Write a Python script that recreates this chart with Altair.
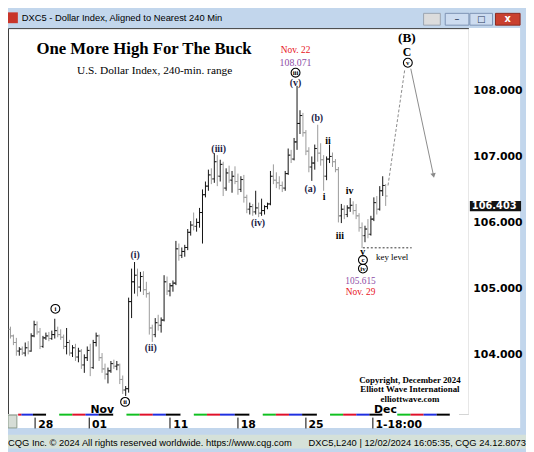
import altair as alt
import pandas as pd

# ---------------- data ----------------
opens = [104.38,104.28,104.18,104.05,104.08,104.02,104.10,104.05,104.28,104.45,
         104.34,104.12,104.25,104.28,104.24,104.30,104.36,104.30,104.26,104.12,
         104.18,104.02,104.10,103.96,104.05,103.84,103.95,104.06,103.80,104.18,
         104.28,103.95,103.78,103.70,103.75,103.86,103.82,103.84,103.62,103.46,
         103.48,104.80,105.10,105.20,105.02,105.18,104.98,104.92,104.40,104.30,
         104.48,104.44,104.52,105.10,104.96,105.04,105.08,105.60,105.50,105.56,
         105.62,105.85,105.96,105.94,106.00,106.15,106.42,106.55,106.72,106.66,
         106.92,106.70,106.88,106.52,106.75,106.64,106.70,106.62,106.50,106.65,
         106.38,106.20,106.24,106.16,106.22,106.14,106.18,106.24,106.28,106.70,
         106.64,106.60,106.56,106.52,106.74,107.02,106.96,107.22,107.50,107.62,
         107.36,107.08,106.84,106.90,107.12,107.05,106.95,106.70,106.96,107.00,
         106.92,106.80,106.10,106.20,106.12,106.22,106.26,106.18,106.10,105.92,
         105.80,105.90,105.82,106.05,106.30,106.20,106.48,106.56]
highs = [104.42,104.30,104.25,104.11,104.12,104.18,104.20,104.32,104.51,104.50,
         104.40,104.28,104.33,104.34,104.36,104.54,104.42,104.38,104.30,104.40,
         104.22,104.14,104.16,104.10,104.08,104.00,104.12,104.16,104.22,104.33,
         104.30,104.02,103.86,103.80,103.90,103.92,103.90,103.86,103.68,103.52,
         104.86,105.30,105.40,105.30,105.25,105.26,105.10,104.95,104.45,104.55,
         104.60,104.56,105.20,105.18,105.08,105.12,105.72,105.68,105.62,105.66,
         105.90,106.02,106.15,106.06,106.22,106.50,106.62,106.80,106.82,107.05,
         107.02,106.95,106.92,106.82,106.86,106.78,106.85,106.74,106.70,106.72,
         106.42,106.30,106.28,106.48,106.30,106.36,106.26,106.30,106.78,106.88,
         106.76,106.70,106.62,106.78,107.12,107.10,107.28,108.07,107.70,107.66,
         107.40,107.14,107.00,107.18,107.48,107.20,107.02,107.00,107.18,107.06,
         106.96,106.84,106.28,106.26,106.26,106.37,106.32,106.28,106.14,106.00,
         105.95,106.05,106.10,106.38,106.40,106.55,106.70,106.58]
lows = [104.24,104.14,103.98,103.98,103.99,103.97,104.00,104.04,104.26,104.30,
        104.08,104.10,104.22,104.20,104.22,104.24,104.26,104.22,104.08,104.00,
        103.98,103.96,103.90,103.88,103.78,103.72,103.90,103.67,103.78,104.12,
        103.90,103.72,103.62,103.56,103.72,103.78,103.76,103.55,103.40,103.37,
        103.42,104.55,104.92,104.88,104.95,104.90,104.86,104.30,104.19,104.26,
        104.36,104.33,104.50,104.90,104.88,104.95,105.05,105.42,105.46,105.48,
        105.58,105.80,105.88,105.86,105.92,105.68,106.38,106.48,106.58,106.60,
        106.55,106.62,106.40,106.48,106.60,106.45,106.58,106.42,106.46,106.30,
        106.14,106.12,106.10,106.12,106.08,106.10,106.12,106.20,106.26,106.58,
        106.52,106.50,106.46,106.48,106.72,106.90,106.94,107.10,107.34,107.30,
        107.02,106.76,106.63,106.80,106.92,106.86,106.48,106.64,106.90,106.84,
        106.76,106.00,105.99,106.05,106.08,106.16,106.12,106.05,105.86,105.61,
        105.70,105.76,105.80,106.02,106.12,106.18,106.40,106.25]
closes = [104.28,104.18,104.05,104.08,104.02,104.10,104.05,104.28,104.45,104.34,
          104.12,104.25,104.28,104.24,104.30,104.36,104.30,104.26,104.12,104.18,
          104.02,104.10,103.96,104.05,103.84,103.95,104.06,103.80,104.18,104.28,
          103.95,103.78,103.70,103.75,103.86,103.82,103.84,103.62,103.46,103.48,
          104.80,105.10,105.20,105.02,105.18,104.98,104.92,104.40,104.30,104.48,
          104.44,104.52,105.10,104.96,105.04,105.08,105.60,105.50,105.56,105.62,
          105.85,105.96,105.94,106.00,106.15,106.42,106.55,106.72,106.66,106.92,
          106.70,106.88,106.52,106.75,106.64,106.70,106.62,106.50,106.65,106.38,
          106.20,106.24,106.16,106.22,106.14,106.18,106.24,106.28,106.70,106.64,
          106.60,106.56,106.52,106.74,107.02,106.96,107.22,107.50,107.62,107.36,
          107.08,106.84,106.90,107.12,107.05,106.95,106.70,106.96,107.00,106.92,
          106.80,106.10,106.20,106.12,106.22,106.26,106.18,106.10,105.92,105.80,
          105.90,105.82,106.05,106.30,106.20,106.48,106.56,106.40]

date_ticks = [8.2, 26.4, 53.9, 76.8, 99.7, 122.4]
date_labels = ["28", "01", "11", "18", "25", "1-18:00"]
month_pos = [26.4, 122.4]
month_labels = ["Nov", "Dec"]
price_ticks = [104, 105, 106, 107, 108]
last_price = 106.403

# session (weekday) colour strip along the bottom edge
day_edges = [2.6, 3.73, 7.6, 12.07, 16.5, 20.93, 25.4, 29.83, 34.83, 39.27, 43.73,
             48.17, 52.6, 57.6, 62.07, 66.5, 70.93, 75.93, 80.93, 85.4, 89.83, 94.27,
             98.73, 103.73, 108.17, 112.6, 117.07, 121.5, 125.93, 130.93, 135.4,
             139.83, 144.27, 148.73, 151.83]
week_colors = ["#1f2fe0", "#000000", "#ffffff", "#10c020", "#e0102a"]

# wave labels
wave_t = ["(i)", "(ii)", "(iii)", "(iv)", "(v)", "(a)", "(b)"]
wave_x = [42.2, 47.5, 70.5, 83.8, 96.5, 101.5, 103.8]
wave_y = [105.50, 104.10, 107.11, 105.99, 108.11, 106.51, 107.58]
minor_t = ["i", "ii", "iii", "iv", "v"]
minor_x = [106.2, 107.5, 111.5, 114.8, 119.2]
minor_y = [106.38, 107.24, 105.80, 106.48, 105.55]
circ_t = ["i", "ii", "iii", "iv", "v", "c"]
circ_x = [15.2, 38.8, 96.5, 119.3, 134.5, 119.3]
circ_y = [104.69, 103.28, 108.27, 105.30, 108.42, 105.43]

# ---------------- frames ----------------
bars = pd.DataFrame({"i": list(range(len(opens))), "open": opens, "high": highs,
                     "low": lows, "close": closes})
bars["col"] = ["#111111" if c >= o else "#9a9a9a" for o, c in zip(opens, closes)]
bars["il"] = bars["i"] - 0.67
bars["ir"] = bars["i"] + 0.67

strip = pd.DataFrame({"x": day_edges[:-1], "x2": day_edges[1:]})
strip["c"] = (["#e0102a"] + week_colors * 7)[:len(strip)]

xs = alt.Scale(domain=[-0.8333, 155.1667], nice=False, zero=False)
ys = alt.Scale(domain=[103.094, 108.945], nice=False, zero=False)

label_expr = " : ".join(
    [f"abs(datum.value - {v}) < 0.01 ? '{t}'" for v, t in zip(date_ticks, date_labels)]
) + " : ''"

xaxis = alt.Axis(values=date_ticks, labelExpr=label_expr, title="", grid=False,
                 domain=False, ticks=True, tickColor="#000000", tickSize=11,
                 tickWidth=1, offset=3, labelAlign="left", labelBaseline="top",
                 labelPadding=-9, labelOffset=3, labelFont="DejaVu Sans",
                 labelFontWeight="bold", labelFontSize=11, labelColor="#000000",
                 labelFlush=False, labelOverlap=False, zindex=1)
yaxis = alt.Axis(orient="right", values=price_ticks, format=".3f", title="",
                 grid=False, domain=False, ticks=False, labelPadding=4,
                 labelFont="DejaVu Sans", labelFontWeight="bold", labelFontSize=11,
                 labelColor="#000000", labelOverlap=False, labelFlush=False, zindex=1)


def X(f):
    return alt.X(f, type="quantitative", scale=xs, axis=xaxis)


def Y(f):
    return alt.Y(f, type="quantitative", scale=ys, axis=yaxis)


one = pd.DataFrame({"k": [0]})


def box(x, x2, y, y2, fill, stroke=None):
    kw = {"fill": fill}
    if stroke:
        kw.update({"stroke": stroke, "strokeWidth": 1})
    return alt.Chart(one).mark_rect(**kw).encode(
        x=alt.value(x), x2=alt.value(x2), y=alt.value(y), y2=alt.value(y2))


def chrome_text(t, x, y, **kw):
    return alt.Chart(pd.DataFrame({"t": [t]})).mark_text(**kw).encode(
        x=alt.value(x), y=alt.value(y), text="t:N")


layers = []
# window chrome
layers += [
    box(468, 520, 0, 406, "#ffffff"),
    box(0, 520, 392, 406, "#ffffff"),
    box(0, 9, 393, 406, "#d6ddd6", "#8a9a8a"),
    box(0, 526, 413, 427, "#d5e1d9"),
    box(0, 10, -16, -5, "#c8352a"),
    box(422, 439, -15, -3, "#dcdcdc", "#9aa4b0"),
    box(444, 468, -15, -3, "#cddcf0", "#7d92b4"),
    box(469, 492, -15, -3, "#cddcf0", "#7d92b4"),
    box(495, 520, -15, -3, "#c9402f", "#8a2a20"),
    chrome_text("DXC5 - Dollar Index, Aligned to Nearest 240 Min", 14, -10,
                font="Liberation Sans", fontSize=9.5, align="left", baseline="middle",
                color="#000000"),
    chrome_text("–", 456, -9, font="DejaVu Sans", fontSize=10, align="center",
                baseline="middle", color="#2a3a5a"),
    chrome_text("□", 480.5, -9, font="DejaVu Sans", fontSize=9, align="center",
                baseline="middle", color="#2a3a5a"),
    chrome_text("x", 507.5, -9.5, font="DejaVu Sans", fontSize=10, fontWeight="bold",
                align="center", baseline="middle", color="#ffffff"),
    chrome_text("CQG Inc. © 2024 All rights reserved worldwide. https://www.cqg.com", 0, 421,
                font="Liberation Sans", fontSize=9.5, align="left", baseline="middle",
                color="#000000"),
    chrome_text("DXC5,L240 | 12/02/2024 16:05:35, CQG 24.12.8073", 526, 421,
                font="Liberation Sans", fontSize=9.5, align="right", baseline="middle",
                color="#000000"),
]

# weekday strip
layers.append(alt.Chart(strip).mark_rule(strokeWidth=2).encode(
    x=X("x"), x2="x2", y=alt.value(392.5), color=alt.Color("c:N", scale=None)))

# price bars
layers.append(alt.Chart(bars).mark_rule(strokeWidth=1).encode(
    x=X("i"), y=Y("low"), y2="high", color=alt.Color("col:N", scale=None)))
layers.append(alt.Chart(bars).mark_rule(strokeWidth=1).encode(
    x=X("il"), x2="i", y=Y("open"), color=alt.Color("col:N", scale=None)))
layers.append(alt.Chart(bars).mark_rule(strokeWidth=1).encode(
    x=X("i"), x2="ir", y=Y("close"), color=alt.Color("col:N", scale=None)))

# month labels
layers.append(alt.Chart(pd.DataFrame({"x": month_pos, "t": month_labels})).mark_text(
    font="DejaVu Sans", fontWeight="bold", fontSize=11, align="left", baseline="middle",
    dx=2, color="#000000").encode(x=X("x"), y=alt.value(387.5), text="t:N"))


def txt(xv, yv, tv, **kw):
    df = pd.DataFrame({"x": xv, "y": yv, "t": tv})
    return alt.Chart(df).mark_text(align="center", baseline="middle", **kw).encode(
        x=X("x"), y=Y("y"), text="t:N")


serif = "Liberation Serif"
layers += [
    txt([45.2], [108.63], ["One More High For The Buck"], font=serif, fontWeight="bold",
        fontSize=17, color="#000000"),
    txt([48.8], [108.29], ["U.S. Dollar Index, 240-min. range"], font=serif, fontSize=11.5,
        color="#000000"),
    txt([96.5], [108.62], ["Nov. 22"], font=serif, fontSize=9.5, color="#e8141c"),
    txt([96.5], [108.42], ["108.071"], font=serif, fontSize=10, color="#8e4ea6"),
    txt([118.5], [105.11], ["105.615"], font=serif, fontSize=9.5, color="#8e4ea6"),
    txt([118.5], [104.95], ["Nov. 29"], font=serif, fontSize=9.5, color="#e8141c"),
    txt([129.2], [105.48], ["key level"], font=serif, fontSize=9, color="#000000"),
    txt(wave_x, wave_y, wave_t, font=serif, fontWeight="bold", fontSize=10, color="#1c1c44"),
    txt(minor_x, minor_y, minor_t, font=serif, fontWeight="bold", fontSize=10, color="#000000"),
    txt([134.2], [108.79], ["(B)"], font=serif, fontWeight="bold", fontSize=13.5, color="#000000"),
    txt([134.2], [108.575], ["C"], font=serif, fontWeight="bold", fontSize=12, color="#000000"),
    txt([135.2, 135.2, 135.2], [103.615, 103.47, 103.325],
        ["Copyright, December 2024", "Elliott Wave International", "elliottwave.com"],
        font=serif, fontWeight="bold", fontSize=9, color="#000000"),
]

# circled degree labels
circ = pd.DataFrame({"x": circ_x, "y": circ_y, "t": circ_t})
layers.append(alt.Chart(circ).mark_point(shape="circle", filled=False, size=81,
                                         strokeWidth=1.1, color="#000000", opacity=1).encode(
    x=X("x"), y=Y("y")))
layers.append(alt.Chart(circ).mark_text(font=serif, fontWeight="bold", fontSize=7,
                                        align="center", baseline="middle", dy=0.5,
                                        color="#000000").encode(
    x=X("x"), y=Y("y"), text="t:N"))

# key level dashed line
layers.append(alt.Chart(pd.DataFrame({"x": [119.3], "x2": [135.8], "y": [105.615]})).mark_rule(
    strokeDash=[2, 2], strokeWidth=1, color="#333333").encode(x=X("x"), x2="x2", y=Y("y")))

# projection lines
layers.append(alt.Chart(pd.DataFrame({"x": [127.8, 133.5], "y": [106.56, 108.33]})).mark_line(
    strokeDash=[3, 2], strokeWidth=1, color="#8a8a8a").encode(x=X("x"), y=Y("y")))
layers.append(alt.Chart(pd.DataFrame({"x": [135.5, 143.2], "y": [108.33, 106.71]})).mark_line(
    strokeWidth=1, color="#8a8a8a").encode(x=X("x"), y=Y("y")))
layers.append(alt.Chart(pd.DataFrame({"x": [143.2], "y": [106.71]})).mark_point(
    shape="triangle-down", filled=True, size=30, angle=348, color="#8a8a8a", opacity=1).encode(
    x=X("x"), y=Y("y")))

# last price box
lp = pd.DataFrame({"p": [last_price], "lo": [last_price - 0.235], "hi": [last_price - 0.08],
                   "t": [f"{last_price:.3f}"]})
layers.append(alt.Chart(lp).mark_rect(fill="#141414").encode(
    x=alt.value(469), x2=alt.value(521), y=Y("lo"), y2="hi"))
layers.append(alt.Chart(lp).mark_text(font="DejaVu Sans", fontWeight="bold", fontSize=10,
                                      align="left", baseline="middle", dy=10, dx=2,
                                      color="#ffffff").encode(
    x=alt.value(469), y=Y("p"), text="t:N"))

chart = alt.layer(*layers).properties(
    width=468, height=392,
    padding={"left": 0, "top": 17, "right": 58, "bottom": 35},
    autosize=alt.AutoSizeParams(type="none"),
    background="#c2d6ec",
).configure_view(stroke="#3a3a3a", strokeWidth=1, fill="#ffffff")

chart.save("out.html", embed_options={"renderer": "svg", "actions": False})
